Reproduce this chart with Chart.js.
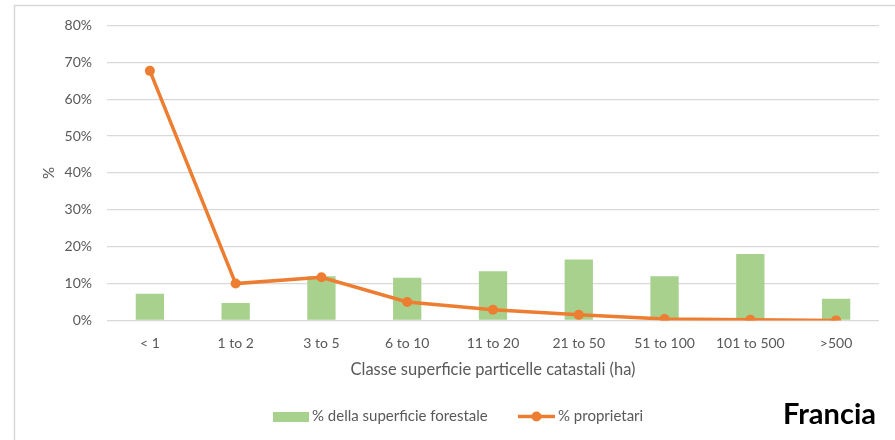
<!DOCTYPE html>
<html>
<head>
<meta charset="utf-8">
<script src="https://cdn.jsdelivr.net/npm/chart.js@4"></script>
<style>
html,body{margin:0;padding:0;background:#fff;}
#wrap{width:895px;height:440px;position:relative;}
</style>
</head>
<body>
<div id="wrap"><canvas id="c" width="895" height="440"></canvas></div>
<script>
const categories = ['< 1','1 to 2','3 to 5','6 to 10','11 to 20','21 to 50','51 to 100','101 to 500','>500'];
const superficieForestale = [7.2, 4.7, 12.0, 11.6, 13.3, 16.5, 12.0, 18.0, 5.9];
const proprietari = [67.7, 10.0, 11.7, 5.0, 2.9, 1.5, 0.4, 0.15, 0.0];
const yTicks = [0, 10, 20, 30, 40, 50, 60, 70, 80];
const seriesNames = ['% della superficie forestale', '% proprietari'];
const xTitle = 'Classe superficie particelle catastali (ha)';
const yTitle = '%';
const cornerLabel = 'Francia';

const FONT = 'Lato, "Open Sans", sans-serif';
const TXT = '#595959';
const GREEN = '#A9D18E';
const ORANGE = '#ED7D31';

const extras = {
  id: 'extras',
  afterDraw(chart) {
    const ctx = chart.ctx;
    ctx.save();
    // frame
    ctx.strokeStyle = '#d9d9d9';
    ctx.lineWidth = 1.5;
    ctx.beginPath();
    ctx.moveTo(14.5, 445);
    ctx.lineTo(14.5, 5.5);
    ctx.lineTo(900, 5.5);
    ctx.stroke();
    // legend
    const ly = 416.5;
    ctx.fillStyle = GREEN;
    ctx.fillRect(273, 412, 36, 10);
    ctx.font = '15px ' + FONT;
    ctx.fillStyle = TXT;
    ctx.textBaseline = 'middle';
    ctx.textAlign = 'left';
    ctx.fillText(seriesNames[0], 312, ly);
    ctx.strokeStyle = ORANGE;
    ctx.lineWidth = 3.5;
    ctx.beginPath();
    ctx.moveTo(518, ly);
    ctx.lineTo(555, ly);
    ctx.stroke();
    ctx.fillStyle = ORANGE;
    ctx.beginPath();
    ctx.arc(536.5, ly, 5, 0, Math.PI * 2);
    ctx.fill();
    ctx.fillStyle = TXT;
    ctx.fillText(seriesNames[1], 558, ly);
    // corner label
    ctx.fillStyle = '#000';
    ctx.font = 'bold 29px ' + FONT;
    ctx.textAlign = 'right';
    ctx.textBaseline = 'alphabetic';
    ctx.fillText(cornerLabel, 876, 424);
    ctx.restore();
  }
};

new Chart(document.getElementById('c'), {
  data: {
    labels: categories,
    datasets: [
      {
        type: 'line',
        label: seriesNames[1],
        data: proprietari,
        borderColor: ORANGE,
        backgroundColor: ORANGE,
        borderWidth: 3.5,
        pointRadius: 5,
        pointBackgroundColor: ORANGE,
        pointBorderWidth: 0,
        tension: 0,
        order: 0
      },
      {
        type: 'bar',
        label: seriesNames[0],
        data: superficieForestale,
        backgroundColor: GREEN,
        barPercentage: 0.33,
        categoryPercentage: 1.0,
        order: 1
      }
    ]
  },
  options: {
    responsive: false,
    animation: false,
    layout: { padding: { left: 30, right: 16, top: 25.5, bottom: 60 } },
    plugins: {
      legend: { display: false },
      tooltip: { enabled: false }
    },
    scales: {
      x: {
        grid: { display: false },
        border: { display: false },
        ticks: { color: TXT, font: { family: FONT, size: 14 }, padding: 6.5 },
        title: { display: true, text: xTitle, color: TXT, font: { family: FONT, size: 16.5 }, padding: { top: 2, bottom: 0 } }
      },
      y: {
        min: 0, max: 80,
        afterBuildTicks(scale) { scale.ticks = yTicks.map(v => ({ value: v })); },
        afterFit(scale) { scale.width = 77; },
        grid: { color: '#d9d9d9', lineWidth: 1.3, drawTicks: false },
        border: { display: false },
        ticks: { color: TXT, font: { family: FONT, size: 14 }, padding: 15, callback: v => v + '%' },
        title: { display: true, text: yTitle, color: TXT, font: { family: FONT, size: 15 }, padding: { top: 10, bottom: 0 } }
      }
    }
  },
  plugins: [extras]
});
</script>
</body>
</html>
